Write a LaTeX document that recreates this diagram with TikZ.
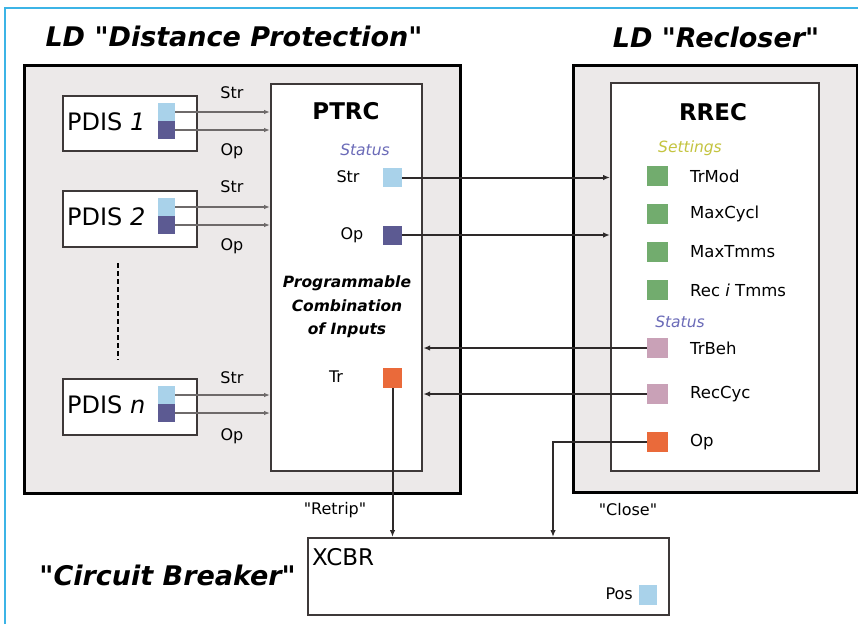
\documentclass[tikz,border=0pt]{standalone}
\usepackage{fontspec}
\setmainfont{DejaVu Sans}[Ligatures=TeXOff]
\usetikzlibrary{arrows.meta}
\definecolor{frameblue}{HTML}{3CB4E6}
\definecolor{outerfill}{HTML}{ECE9E9}
\definecolor{boxline}{HTML}{3E3939}
\definecolor{sqlight}{HTML}{A9D2EA}
\definecolor{sqdark}{HTML}{5C5A92}
\definecolor{sqgreen}{HTML}{72AC6E}
\definecolor{sqpink}{HTML}{C9A1B7}
\definecolor{sqorange}{HTML}{EA6A3A}
\definecolor{statuscol}{HTML}{6B6BB8}
\definecolor{settingscol}{HTML}{C4C440}
\definecolor{conline}{HTML}{2E2A2A}
\definecolor{thinline}{HTML}{6E6A6A}
\begin{document}
\begin{tikzpicture}[x=1pt,y=-1pt,
  outerbox/.style={draw=black,line width=3pt,fill=outerfill,anchor=north west,inner sep=0pt},
  innerbox/.style={draw=boxline,line width=2.2pt,fill=white,anchor=north west,inner sep=0pt},
  sq/.style={minimum width=19pt,minimum height=19pt,inner sep=0pt,draw=none},
  lbl/.style={font=\fontsize{16}{18}\selectfont,inner sep=0pt},
  rlbl/.style={font=\fontsize{16.5}{18}\selectfont,inner sep=0pt,anchor=west},
  bigtitle/.style={font=\fontsize{27}{30}\selectfont\bfseries\itshape,inner sep=0pt},
  status/.style={font=\fontsize{15.5}{18}\selectfont\itshape,inner sep=0pt},
  thinarrow/.style={draw=thinline,line width=1.1pt,-{Latex[length=6pt,width=4.5pt]}},
  conarrow/.style={draw=conline,line width=2pt,-{Latex[length=7pt,width=5.5pt]}}
]
\useasboundingbox (0,0) rectangle (858,624);
\fill[white] (0,0) rectangle (858,624);
\coordinate (fb1) at (5,624);
\coordinate (fb2) at (5,8);
\coordinate (fb3) at (858,8);
\draw[frameblue,line width=1.6pt] (fb1) -- (fb2) -- (fb3);

% titles
\node[bigtitle] (t1) at (234,36) {LD "Distance Protection"};
\node[bigtitle] (t2) at (716,37) {LD "Recloser"};
\node[bigtitle,anchor=east] (t3) at (296,575) {"Circuit Breaker"};

% outer boxes
\node[outerbox,minimum width=436pt,minimum height=428pt] (ldp) at (23,64) {};
\node[outerbox,minimum width=284pt,minimum height=427pt] (ldr) at (572,64) {};

% PDIS boxes
\node[innerbox,minimum width=134pt,minimum height=55pt] (pd1) at (62,95) {};
\node[innerbox,minimum width=134pt,minimum height=56pt] (pd2) at (62,190) {};
\node[innerbox,minimum width=134pt,minimum height=56pt] (pdn) at (62,378) {};
\node[font=\fontsize{24}{26}\selectfont,anchor=west,inner sep=0pt] (pd1t) at (67,122) {PDIS \textit{1}};
\node[font=\fontsize{24}{26}\selectfont,anchor=west,inner sep=0pt] (pd2t) at (67,217) {PDIS \textit{2}};
\node[font=\fontsize{24}{26}\selectfont,anchor=west,inner sep=0pt] (pdnt) at (67,405) {PDIS \textit{n}};

\node[sq,fill=sqlight,minimum width=17pt,minimum height=18pt] (s1a) at (166.5,112) {};
\node[sq,fill=sqdark,minimum width=17pt,minimum height=18pt] (s1b) at (166.5,130) {};
\node[sq,fill=sqlight,minimum width=17pt,minimum height=18pt] (s2a) at (166.5,207) {};
\node[sq,fill=sqdark,minimum width=17pt,minimum height=18pt] (s2b) at (166.5,225) {};
\node[sq,fill=sqlight,minimum width=17pt,minimum height=18pt] (sna) at (166.5,395) {};
\node[sq,fill=sqdark,minimum width=17pt,minimum height=18pt] (snb) at (166.5,413) {};

% dashed ellipsis
\coordinate (dsh1) at (118,263);
\coordinate (dsh2) at (118,360);
\draw[black,line width=2pt,dash pattern=on 5pt off 3pt] (dsh1) -- (dsh2);

% PTRC
\node[innerbox,minimum width=151pt,minimum height=387pt] (ptrc) at (270,83) {};
\node[font=\fontsize{23}{26}\selectfont\bfseries,inner sep=0pt] (ptrct) at (346,111) {PTRC};
\node[status,text=statuscol] (pst) at (365,150) {Status};
\node[lbl] (pstrl) at (348,177) {Str};
\node[sq,fill=sqlight] (pstr) at (392.5,177.5) {};
\node[lbl] (popl) at (352,235) {Op};
\node[sq,fill=sqdark] (pop) at (392.5,235) {};
\node[font=\fontsize{15.5}{23.5}\selectfont\bfseries\itshape,align=center,inner sep=0pt] (prog) at (347,307) {Programmable\\Combination\\of Inputs};
\node[lbl] (ptrl) at (336,377) {Tr};
\node[sq,fill=sqorange,minimum height=20pt] (ptr) at (392.5,378) {};

% PDIS -> PTRC
\draw[thinarrow] (s1a.east) -- (s1a.east -| ptrc.west);
\draw[thinarrow] (s1b.east) -- (s1b.east -| ptrc.west);
\draw[thinarrow] (s2a.east) -- (s2a.east -| ptrc.west);
\draw[thinarrow] (s2b.east) -- (s2b.east -| ptrc.west);
\draw[thinarrow] (sna.east) -- (sna.east -| ptrc.west);
\draw[thinarrow] (snb.east) -- (snb.east -| ptrc.west);
\node[lbl] (l1s) at (232,93) {Str};
\node[lbl] (l1o) at (232,151) {Op};
\node[lbl] (l2s) at (232,187) {Str};
\node[lbl] (l2o) at (232,246) {Op};
\node[lbl] (lns) at (232,378) {Str};
\node[lbl] (lno) at (232,436) {Op};

% RREC
\node[innerbox,minimum width=208pt,minimum height=388pt] (rrec) at (610,82) {};
\node[font=\fontsize{23}{26}\selectfont\bfseries,inner sep=0pt] (rrect) at (713,112) {RREC};
\node[status,text=settingscol] (rset) at (690,148) {Settings};
\node[sq,fill=sqgreen,minimum width=21pt,minimum height=20pt] (g1) at (657.5,176) {};
\node[sq,fill=sqgreen,minimum width=21pt,minimum height=20pt] (g2) at (657.5,214) {};
\node[sq,fill=sqgreen,minimum width=21pt,minimum height=20pt] (g3) at (657.5,252) {};
\node[sq,fill=sqgreen,minimum width=21pt,minimum height=20pt] (g4) at (657.5,290) {};
\node[rlbl] (g1l) at (690,176) {TrMod};
\node[rlbl] (g2l) at (690,214) {MaxCycl};
\node[rlbl] (g3l) at (690,252) {MaxTmms};
\node[rlbl] (g4l) at (690,290) {Rec \textit{i} Tmms};
\node[status,text=statuscol] (rst) at (680,322) {Status};
\node[sq,fill=sqpink,minimum width=21pt,minimum height=20pt] (trbeh) at (657.5,348) {};
\node[sq,fill=sqpink,minimum width=21pt,minimum height=20pt] (reccyc) at (657.5,394) {};
\node[sq,fill=sqorange,minimum width=21pt,minimum height=20pt] (rop) at (657.5,442) {};
\node[rlbl] (trbehl) at (690,348) {TrBeh};
\node[rlbl] (reccycl) at (690,394) {RecCyc};
\node[rlbl] (ropl) at (690,442) {Op};

% XCBR
\node[innerbox,minimum width=361pt,minimum height=77pt] (xcbr) at (307,537) {};
\node[font=\fontsize{23}{26}\selectfont,anchor=west,inner sep=0pt] (xcbrt) at (312,557) {XCBR};
\node[sq,fill=sqlight,minimum width=18pt,minimum height=20pt] (pos) at (648,595) {};
\node[font=\fontsize{16}{18}\selectfont,anchor=east,inner sep=0pt] (posl) at (633,594) {Pos};

% connectors
\draw[conarrow] (pstr.east) -- (pstr.east -| rrec.west);
\draw[conarrow] (pop.east) -- (pop.east -| rrec.west);
\draw[conarrow] (trbeh.west) -- (trbeh.west -| ptrc.east);
\draw[conarrow] (reccyc.west) -- (reccyc.west -| ptrc.east);
\draw[conarrow] (ptr.south) -- (ptr.south |- xcbr.north);
\coordinate (closex) at (553,537);
\draw[conarrow] (rop.west) -| (closex);
\node[lbl] (retrip) at (335,510) {"Retrip"};
\node[lbl] (close) at (628,510) {"Close"};
\end{tikzpicture}
\end{document}
